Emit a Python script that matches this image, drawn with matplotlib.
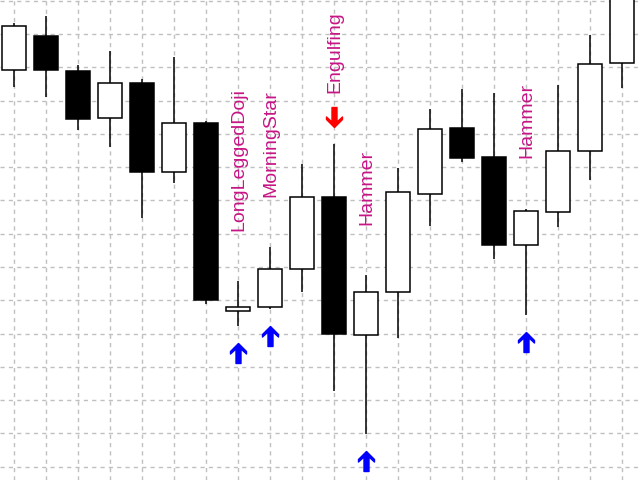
import matplotlib
matplotlib.use("Agg")
import matplotlib.pyplot as plt
from matplotlib.path import Path
from matplotlib.transforms import ScaledTranslation
import numpy as np


# ------------------------------------
# Price data (20 bars)
# ------------------------------------
opens = [11.92, 12.95, 11.90, 10.48, 11.53, 8.85, 10.31, 4.69, 4.81, 5.95,
         8.11, 3.97, 5.26, 8.20, 10.16, 9.29, 6.67, 7.66, 9.48, 12.13]
highs = [13.34, 13.55, 12.08, 12.50, 11.65, 12.32, 10.37, 5.57, 6.59, 9.10,
         9.70, 5.75, 8.96, 10.76, 11.36, 11.24, 7.75, 11.47, 12.98, 14.90]
lows = [11.42, 11.12, 10.10, 9.60, 7.46, 8.52, 4.90, 4.22, 4.73, 5.25,
        2.27, 0.97, 3.86, 7.22, 9.14, 6.23, 4.56, 7.20, 8.60, 11.37]
closes = [13.24, 11.91, 10.44, 11.53, 8.85, 10.33, 5.00, 4.81, 5.95, 8.11,
          4.00, 5.26, 8.26, 10.15, 9.27, 6.66, 7.69, 9.49, 12.10, 14.60]

# detected candlestick patterns
pattern_bars = [7, 8, 10, 11, 16]
pattern_names = ["LongLeggedDoji", "MorningStar", "Engulfing", "Hammer", "Hammer"]
pattern_signal = ["up", "up", "down", "up", "up"]


# ------------------------------------
# Arrow marker shapes
# ------------------------------------
up_verts = [(0, 10), (8, 2), (8, -0.5), (2.5, 4.5), (2.5, -10),
            (-2.5, -10), (-2.5, 4.5), (-8, -0.5), (-8, 2), (0, 10)]
up_arrow = Path(up_verts, closed=True)
down_arrow = Path([(x, -y) for x, y in up_verts], closed=True)


# ------------------------------------
# Candlestick chart
# ------------------------------------
fig = plt.figure(figsize=(6.4, 4.8), dpi=100)
ax = fig.add_axes([0, 0, 1, 1])

x = np.arange(len(opens))
o = np.array(opens)
c = np.array(closes)
bullish = c >= o

ax.vlines(x, lows, highs, color="black", linewidth=1.1, zorder=2)

ax.bar(
    x,
    np.abs(c - o),
    bottom=np.minimum(o, c),
    width=0.72,
    color=np.where(bullish, "white", "black"),
    edgecolor="black",
    linewidth=1.1,
    zorder=3
)

# arrows and pattern names
for i, name, sig in zip(pattern_bars, pattern_names, pattern_signal):

    if sig == "up":
        shift = ScaledTranslation(0, -0.27, fig.dpi_scale_trans)
        ax.plot(i, lows[i], marker=up_arrow, markersize=14.4, color="#0000FF",
                linestyle="none", transform=ax.transData + shift, zorder=4)
    else:
        shift = ScaledTranslation(0, 0.27, fig.dpi_scale_trans)
        ax.plot(i, highs[i], marker=down_arrow, markersize=14.4, color="#FF0000",
                linestyle="none", transform=ax.transData + shift, zorder=4)

    ax.annotate(
        name,
        xy=(i, highs[i]),
        xytext=(0.5, 36.5),
        textcoords="offset points",
        rotation=90,
        ha="center",
        va="bottom",
        fontsize=14,
        family="Liberation Sans",
        color="#C71585",
        zorder=5
    )

ax.set_xlim(-0.4375, 19.5625)
ax.set_ylim(-0.40, 14.02)

ax.set_xticks(x)
ax.set_yticks(np.arange(0, 15))
ax.grid(True, color="#C0C0C0", linestyle=(0, (3, 3)), linewidth=1.0, zorder=0)
ax.set_axisbelow(True)
ax.tick_params(length=0, labelbottom=False, labelleft=False)

for side in ax.spines.values():
    side.set_visible(False)

plt.savefig("out.png", dpi=100)
